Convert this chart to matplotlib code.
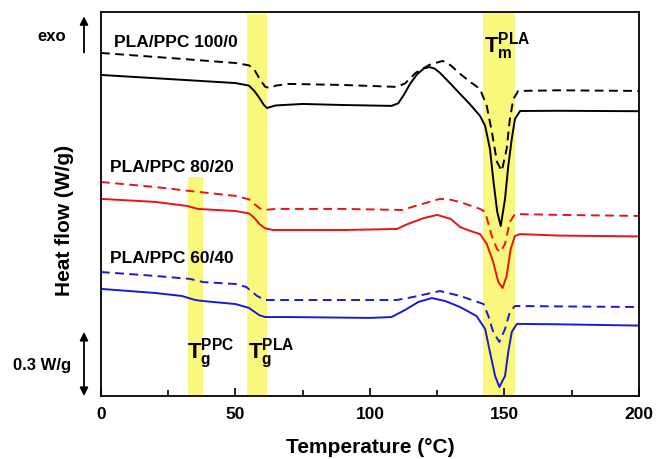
import numpy as np
import matplotlib
matplotlib.use("Agg")
import matplotlib.pyplot as plt

plt.rcParams['font.family'] = ['Liberation Sans', 'DejaVu Sans']
plt.rcParams['font.weight'] = 'bold'
plt.rcParams['mathtext.fontset'] = 'custom'
plt.rcParams['mathtext.rm'] = 'Liberation Sans:bold'
plt.rcParams['mathtext.bf'] = 'Liberation Sans:bold'
plt.rcParams['mathtext.it'] = 'Liberation Sans:bold'

# ---- Daten (Temperatur in °C, Wärmestrom in W/g, vertikal versetzt) ----
t_100_solid = [0, 25, 50, 55, 57, 59, 60.5, 61.7, 63, 65, 75, 90, 108, 110.5, 112.5, 115, 117.5,
               120, 122, 124, 126, 130, 133.5, 137, 140.9, 142.8, 144.6, 145.8, 147.3, 148.6,
               150.2, 151.4, 152.7, 153.9, 155.8, 170, 200]
h_100_solid = [1.505, 1.486, 1.467, 1.455, 1.430, 1.395, 1.365, 1.350, 1.355, 1.362, 1.369, 1.364,
               1.360, 1.372, 1.410, 1.465, 1.508, 1.535, 1.542, 1.535, 1.515, 1.463, 1.416, 1.370,
               1.313, 1.266, 1.158, 1.017, 0.863, 0.797, 0.924, 1.078, 1.205, 1.299, 1.336,
               1.337, 1.335]

t_100_dash = [0, 25, 50, 55, 57, 59, 61, 62.5, 65, 70, 90, 110, 113, 117, 122, 127, 130, 133.5,
              137, 140.9, 143.4, 145.3, 147.2, 149, 150.8, 152, 153.3, 155.1, 170, 200]
h_100_dash = [1.608, 1.585, 1.561, 1.550, 1.530, 1.486, 1.450, 1.444, 1.455, 1.463, 1.458, 1.449,
              1.465, 1.515, 1.552, 1.571, 1.550, 1.510, 1.475, 1.439, 1.360, 1.238, 1.097, 1.055,
              1.158, 1.299, 1.392, 1.430, 1.433, 1.430]

t_80_solid = [0, 20, 32, 36, 50, 55, 57, 59, 61, 64, 90, 110, 114, 120, 125, 130, 133.5, 137,
              140.9, 143.4, 145.8, 147.7, 149.3, 150.8, 152.3, 153.9, 155.8, 170, 200]
h_80_solid = [0.924, 0.910, 0.891, 0.877, 0.867, 0.856, 0.835, 0.805, 0.786, 0.778, 0.778, 0.783,
              0.806, 0.834, 0.849, 0.830, 0.792, 0.775, 0.759, 0.713, 0.628, 0.534, 0.506, 0.563,
              0.689, 0.750, 0.759, 0.752, 0.748]

t_80_dash = [0, 20, 33, 50, 55, 57, 59, 60.5, 65, 90, 112, 118, 126, 130, 133.5, 140.9, 142.8,
             145.3, 147.2, 148.5, 150.2, 152, 153.9, 170, 200]
h_80_dash = [1.003, 0.980, 0.961, 0.938, 0.922, 0.900, 0.880, 0.872, 0.877, 0.877, 0.872, 0.895,
             0.924, 0.920, 0.909, 0.877, 0.863, 0.750, 0.689, 0.675, 0.713, 0.816, 0.853,
             0.849, 0.844]

t_60_solid = [0, 20, 30, 35, 38, 50, 55, 57, 59, 61, 70, 100, 108, 113, 118, 123, 128, 133.5,
              139.6, 142.8, 144.6, 146.5, 148.1, 150.2, 151.4, 152.7, 154.6, 170, 200]
h_60_solid = [0.502, 0.483, 0.469, 0.450, 0.445, 0.431, 0.413, 0.395, 0.378, 0.370, 0.370, 0.366,
              0.370, 0.403, 0.441, 0.459, 0.445, 0.417, 0.375, 0.314, 0.206, 0.094, 0.042, 0.094,
              0.206, 0.300, 0.338, 0.336, 0.330]

t_60_dash = [0, 20, 33, 38, 50, 54, 56, 58, 61, 70, 110, 116, 126, 133.5, 142.2, 144, 145.8,
             148.1, 150.2, 152, 153.9, 170, 200]
h_60_dash = [0.581, 0.563, 0.549, 0.534, 0.525, 0.511, 0.490, 0.469, 0.450, 0.450, 0.450, 0.464,
             0.492, 0.469, 0.431, 0.375, 0.300, 0.253, 0.314, 0.394, 0.422, 0.420, 0.417]

# Übergangsbereiche (gelbe Bänder)
band_tg_pla = (54.2, 61.7)
band_tg_ppc = (32.4, 38.0)
band_tm_pla = (142.0, 154.0)

sample_labels = ["PLA/PPC 100/0", "PLA/PPC 80/20", "PLA/PPC 60/40"]

fig = plt.figure(figsize=(6.57, 4.60), dpi=100)
ax = fig.add_axes([0.1537, 0.137, 0.8189, 0.8347])

yel = '#f9f77c'
ax.axvspan(*band_tg_pla, ymin=0, ymax=0.995, color=yel, lw=0, zorder=0)
ax.axvspan(*band_tm_pla, ymin=0, ymax=1.0, color=yel, lw=0, zorder=0)
ax.axvspan(*band_tg_ppc, ymin=0, ymax=0.57, color=yel, lw=0, zorder=0)

lw = 1.4
dash = (4.5, 2.8)
ax.plot(t_100_solid, h_100_solid, color='black', lw=lw)
ax.plot(t_100_dash, h_100_dash, color='black', lw=lw, dashes=dash)
ax.plot(t_80_solid, h_80_solid, color='#e81414', lw=lw)
ax.plot(t_80_dash, h_80_dash, color='#e81414', lw=lw, dashes=dash)
ax.plot(t_60_solid, h_60_solid, color='#1a1ad2', lw=lw)
ax.plot(t_60_dash, h_60_dash, color='#1a1ad2', lw=lw, dashes=dash)

ax.set_xlim(0, 200)
ax.set_ylim(0, 1.80)
ax.set_xticks([0, 50, 100, 150, 200])
ax.set_xticks([25, 75, 125, 175], minor=True)
ax.set_yticks([])
ax.tick_params(axis='x', which='major', direction='in', length=6, width=1.2,
               labelsize=12.5, pad=7)
ax.tick_params(axis='x', which='minor', direction='in', length=4, width=1.2)
for lab in ax.get_xticklabels():
    lab.set_fontweight('bold')
for s in ax.spines.values():
    s.set_linewidth(1.3)

ax.set_xlabel("Temperature (°C)", fontsize=15, fontweight='bold')
ax.set_ylabel("Heat flow (W/g)", fontsize=15, fontweight='bold')
ax.xaxis.set_label_coords(0.5, -0.107)
ax.yaxis.set_label_coords(-0.050, 0.461)

# Probenbeschriftungen
ax.text(4.8, 1.664, sample_labels[0], fontsize=12.5, fontweight='bold', va='center')
ax.text(3.3, 1.078, sample_labels[1], fontsize=12.5, fontweight='bold', va='center')
ax.text(3.3, 0.647, sample_labels[2], fontsize=12.5, fontweight='bold', va='center')

ax.text(142.2, 1.613, r'$\mathrm{T_m^{PLA}}$', fontsize=16, va='baseline', ha='left')
ax.text(32.0, 0.180, r'$\mathrm{T_g^{PPC}}$', fontsize=16, va='baseline', ha='left')
ax.text(54.6, 0.180, r'$\mathrm{T_g^{PLA}}$', fontsize=16, va='baseline', ha='left')

# exo-Pfeil und Skalenbalken
fig.text(0.079, 0.92, "exo", fontsize=12, fontweight='bold', ha='center', va='center')
ax.annotate("", xy=(-0.0316, 1.78), xytext=(-0.0316, 1.61),
            xycoords=('axes fraction', 'data'), textcoords=('axes fraction', 'data'),
            arrowprops=dict(arrowstyle='-|>', color='black', lw=1.3, mutation_scale=12,
                            shrinkA=0, shrinkB=0),
            annotation_clip=False)
ax.annotate("", xy=(-0.0316, 0.0), xytext=(-0.0316, 0.30),
            xycoords=('axes fraction', 'data'), textcoords=('axes fraction', 'data'),
            arrowprops=dict(arrowstyle='<|-|>', color='black', lw=1.3, mutation_scale=12,
                            shrinkA=0, shrinkB=0),
            annotation_clip=False)
fig.text(0.064, 0.2065, "0.3 W/g", fontsize=12, fontweight='bold', ha='center', va='center')

plt.savefig("out.png", dpi=100)
